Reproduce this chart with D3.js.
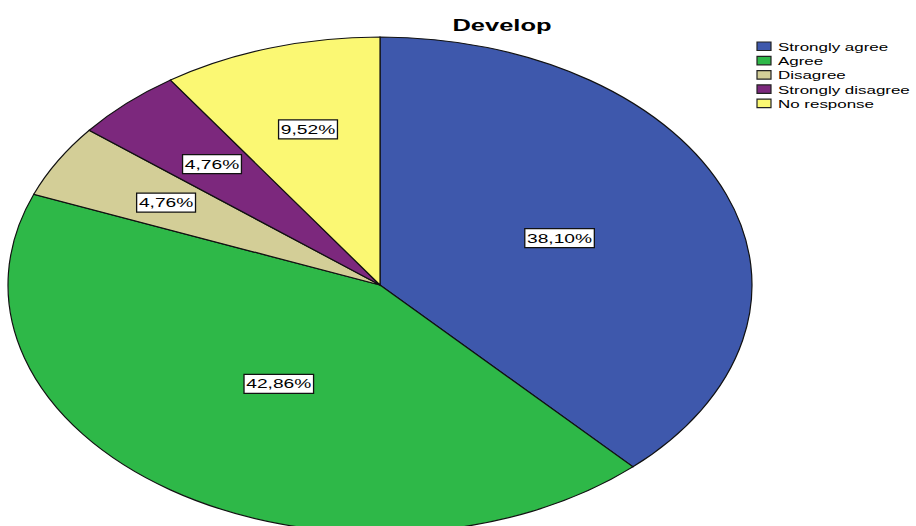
<!DOCTYPE html>
<html>
<head>
<meta charset="utf-8">
<script src="https://cdn.jsdelivr.net/npm/d3@7"></script>
<style>
  html, body { margin: 0; padding: 0; background: #fff; }
  svg { display: block; font-family: Arial, "Liberation Sans", sans-serif; }
</style>
</head>
<body>
<svg id="chart" width="916" height="526"></svg>
<script>
// ---- data ----
const categories = ["Strongly agree", "Agree", "Disagree", "Strongly disagree", "No response"];
const percents = [38.10, 42.86, 4.76, 4.76, 9.52];
const colors = ["#3E58AC", "#2EB848", "#D3CE97", "#7C287D", "#FBF873"];
const title = "Develop";

// the original is stretched horizontally: draw on a circle, scale x
const SX = 1.5;
const cx = 380 / SX, cy = 285, r = 248;

const svg = d3.select("#chart");
const g = svg.append("g").attr("transform", `scale(${SX},1)`);

const pie = d3.pie().sort(null).value((d) => d.v);
const arc = d3.arc().innerRadius(0).outerRadius(r);
const data = categories.map((c, i) => ({ c, v: percents[i], col: colors[i] }));
const arcs = pie(data);

const gp = g.append("g").attr("transform", `translate(${cx},${cy})`);
gp.selectAll("path").data(arcs).enter().append("path")
  .attr("d", arc)
  .attr("fill", (d) => d.data.col)
  .attr("stroke", "#111")
  .attr("stroke-width", 1.2)
  .attr("vector-effect", "non-scaling-stroke");

// labels at the area centroid of each sector
const fmt = (v) => v.toFixed(2).replace(".", ",") + "%";
const lab = gp.selectAll("g.lab").data(arcs).enter().append("g").attr("class", "lab")
  .attr("transform", (d) => {
    const a = (d.endAngle - d.startAngle) / 2, m = (d.startAngle + d.endAngle) / 2;
    const rr = (2 * r * Math.sin(a)) / (3 * a);
    return `translate(${rr * Math.sin(m)},${-rr * Math.cos(m)})`;
  });
lab.append("rect");
lab.append("text")
  .attr("text-anchor", "middle")
  .attr("dy", "0.36em")
  .attr("font-size", 12.8)
  .attr("fill", "#000")
  .text((d) => fmt(d.data.v));
lab.each(function () {
  const s = d3.select(this);
  const w = s.select("text").node().getComputedTextLength() + 3;
  s.select("rect")
    .attr("x", -w / 2).attr("y", -9.5).attr("width", w).attr("height", 19)
    .attr("fill", "#fff").attr("stroke", "#111").attr("stroke-width", 1.3)
    .attr("vector-effect", "non-scaling-stroke");
});

// title
g.append("text")
  .attr("x", 502 / SX).attr("y", 31)
  .attr("text-anchor", "middle")
  .attr("font-size", 17).attr("font-weight", "bold")
  .text(title);

// legend
const lg = g.append("g").attr("transform", `translate(${757 / SX},42)`);
const row = lg.selectAll("g").data(data).enter().append("g")
  .attr("transform", (d, i) => `translate(0,${i * 14.3})`);
row.append("rect")
  .attr("width", 14 / SX).attr("height", 8.5)
  .attr("fill", (d) => d.col)
  .attr("stroke", "#222").attr("stroke-width", 1.2)
  .attr("vector-effect", "non-scaling-stroke");
row.append("text")
  .attr("x", 21 / SX).attr("y", 8.7)
  .attr("font-size", 11.3)
  .text((d) => d.c);
</script>
</body>
</html>
